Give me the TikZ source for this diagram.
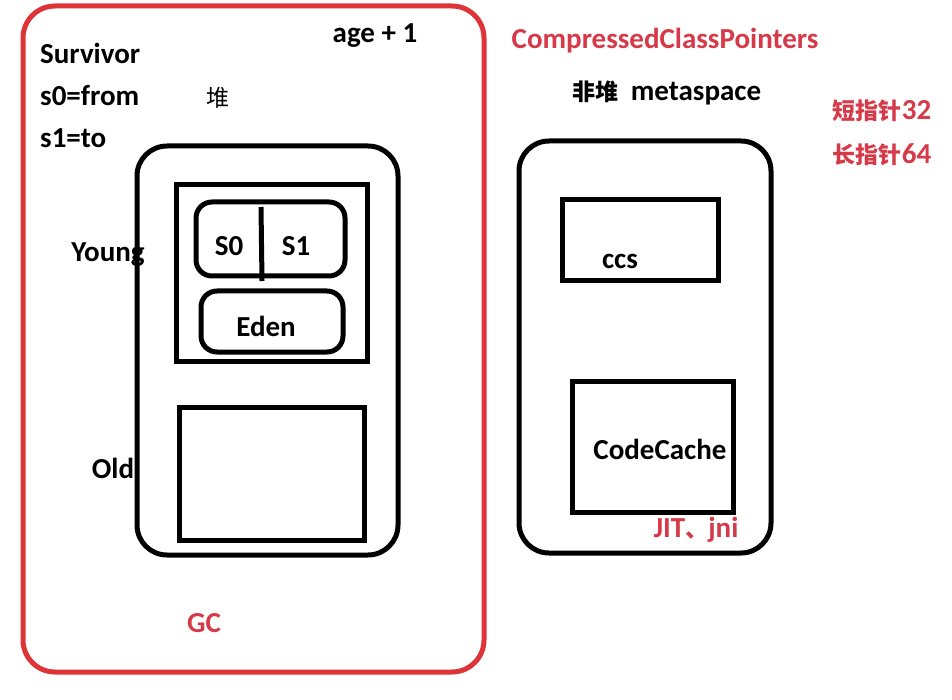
\documentclass[tikz,border=0pt]{standalone}
\usepackage{fontspec}
\setmainfont{Carlito}
\newfontfamily\cjk{Noto Sans CJK SC}
\definecolor{gcred}{RGB}{222,52,56}
\definecolor{txtred}{RGB}{214,58,72}
\newcommand{\cjkt}[1]{{\cjk\fontsize{23}{28}\selectfont #1}}
\begin{document}
\begin{tikzpicture}[x=1pt,y=-1pt,
  lbl/.style={font=\fontsize{29}{34}\selectfont\bfseries, text=black, inner sep=0pt},
  redlbl/.style={lbl, text=txtred},
  rbox/.style={draw=black, line width=5pt, rounded corners=30pt},
  sbox/.style={draw=black, line width=5pt},
  pbox/.style={draw=black, line width=5pt, rounded corners=16pt}]
\useasboundingbox[fill=white] (0,0) rectangle (952,700);
% red outer
\draw[draw=gcred, line width=5pt, rounded corners=32pt] (23,6) rectangle (484,672);
% heap
\draw[rbox] (137,146) rectangle (398,555);
\draw[sbox] (176,185) rectangle (367,361);
\draw[pbox] (196,202) rectangle (345,276);
\coordinate (dtop) at (261,207);
\coordinate (dbot) at (262,281);
\draw[line width=5pt] (dtop) -- (dbot);
\draw[pbox] (201,291) rectangle (343,352);
\draw[sbox] (179,407) rectangle (364,540);
% non-heap
\draw[rbox] (519,141) rectangle (771,553);
\draw[sbox] (562,200) rectangle (718,281);
\draw[sbox] (572,381) rectangle (733,512);
% texts
\node[lbl, anchor=west] (surv) at (40,53) {Survivor};
\node[lbl, anchor=west] (sfrom) at (40,96) {s0=from};
\node[lbl, anchor=west] (sto) at (40,138) {s1=to};
\node[lbl] (age) at (375,36) {age + 1};
\node[lbl] (heap) at (218,98) {\cjkt{\mdseries 堆}};
\node[lbl] (young) at (108,255) {Young};
\node[lbl] (old) at (113,468) {Old};
\node[lbl] (s0) at (229,246) {S0};
\node[lbl] (s1) at (296,246) {S1};
\node[lbl] (eden) at (266,326) {Eden};
\node[redlbl] (gc) at (204,623) {GC};
\node[redlbl] (ccp) at (665,41) {CompressedClassPointers};
\node[lbl] (meta) at (667,93) {\cjkt{非堆}\hspace{12pt}metaspace};
\node[redlbl] (short) at (882,111) {\cjkt{短指针}32};
\node[redlbl] (long) at (882,155) {\cjkt{长指针}64};
\node[lbl] (ccs) at (620,261) {ccs};
\node[lbl] (cc) at (660,449) {CodeCache};
\node[redlbl] (jit) at (696,530) {JIT\cjkt{、}jni};
\end{tikzpicture}
\end{document}
